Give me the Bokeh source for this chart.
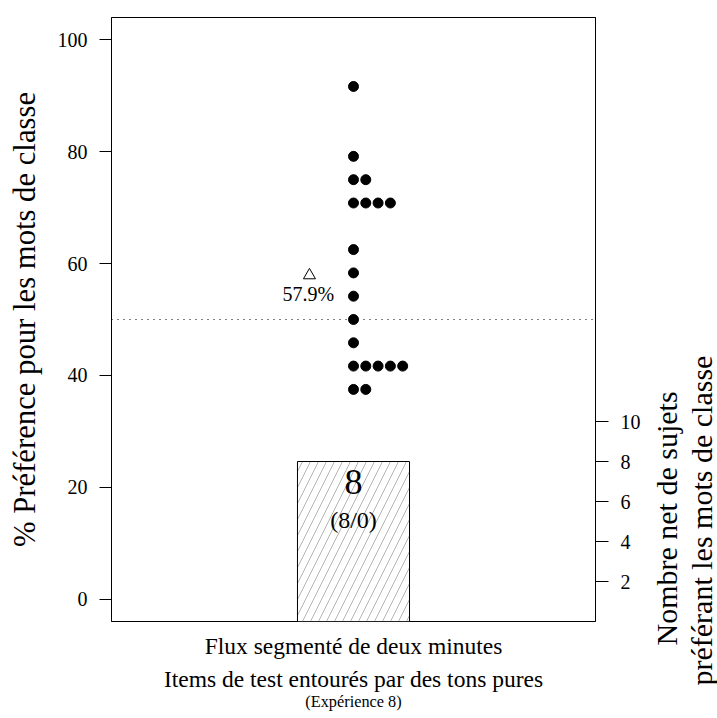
from bokeh.plotting import figure
from bokeh.models import Range1d, LinearAxis, FixedTicker, Span, Label, Title
from bokeh.layouts import row
from bokeh.embed import file_html
from bokeh.resources import INLINE

# ---- data ----
category = "Flux segmenté de deux minutes"
pref_values = [91.67, 79.17, 75.0, 70.83, 62.5, 58.33, 54.17, 50.0, 45.83, 41.67, 37.5]
pref_counts = [1, 1, 2, 4, 1, 1, 1, 1, 1, 5, 2]
mean_pref = 57.9
net_count = 8
net_split = "(8/0)"
left_ticks = [0, 20, 40, 60, 80, 100]
right_ticks = [2, 4, 6, 8, 10]
ylabel_left = "% Préférence pour les mots de classe"
ylabel_right = ["Nombre net de sujets", "préférant les mots de classe"]
xlabel_lines = ["Items de test entourés par des tons pures", "(Expérience 8)"]

FONT = "Liberation Serif"

p = figure(width=648, height=718, output_backend="svg", toolbar_location=None,
           x_range=Range1d(0, 2), y_range=Range1d(-4, 104),
           min_border_left=111, min_border_right=53, min_border_top=17, min_border_bottom=97)
p.extra_y_ranges = {"net": Range1d(0, 30.2)}
p.xaxis.visible = False
p.yaxis.visible = False
p.xgrid.visible = False
p.ygrid.visible = False
p.outline_line_color = "black"
p.outline_line_width = 1
p.background_fill_color = "white"
p.border_fill_color = "white"


def style_axis(ax):
    ax.minor_tick_line_color = None
    ax.major_label_text_font = FONT
    ax.major_label_text_font_size = "20px"
    ax.major_label_text_color = "black"
    ax.axis_line_color = "black"
    ax.major_tick_line_color = "black"
    ax.axis_label_text_font = FONT
    ax.axis_label_text_font_style = "normal"
    ax.axis_label_text_color = "black"


# left axis
la = LinearAxis(ticker=FixedTicker(ticks=left_ticks), axis_label=ylabel_left)
style_axis(la)
la.major_tick_out = 12
la.major_tick_in = 0
la.major_label_standoff = 12
la.axis_label_text_font_size = "30.7px"
la.axis_label_standoff = 13
p.add_layout(la, "left")

# right axis (net count)
ra = LinearAxis(ticker=FixedTicker(ticks=right_ticks), y_range_name="net")
style_axis(ra)
ra.major_tick_out = 13
ra.major_tick_in = 0
ra.major_label_standoff = 12
p.add_layout(ra, "right")

# bottom label axes
for txt, size, stand in [(category, "23.5px", 11),
                         (xlabel_lines[0], "23.5px", 4),
                         (xlabel_lines[1], "16.3px", -3)]:
    bx = LinearAxis(ticker=FixedTicker(ticks=[]), axis_label=txt)
    style_axis(bx)
    bx.axis_line_color = None
    bx.major_tick_out = 0
    bx.major_tick_in = 0
    bx.major_label_standoff = 0
    bx.axis_label_text_font_size = size
    bx.axis_label_standoff = stand
    p.add_layout(bx, "below")

# bar (net count) on right scale
p.vbar(x=[1.0], width=0.463, bottom=[0], top=[net_count], y_range_name="net",
       fill_color="white", line_color="black", line_width=1,
       hatch_pattern="/", hatch_color="#b5b5b5", hatch_scale=16, hatch_weight=1)

# 50% reference line
p.add_layout(Span(location=50, dimension="width", line_color="black",
                  line_width=1, line_dash="1 5"))

# stacked dots
xs, ys = [], []
step = 0.0508
for v, c in zip(pref_values, pref_counts):
    for k in range(c):
        xs.append(1.0 + k * step)
        ys.append(v)
p.scatter(x=xs, y=ys, size=10, marker="circle", fill_color="black", line_color="black")

# mean triangle
p.scatter(x=[0.818], y=[mean_pref], marker="triangle", size=12,
          fill_color=None, line_color="black", line_width=1)
p.add_layout(Label(x=0.813, y=54.64, text=f"{mean_pref}%", text_font=FONT,
                   text_font_size="20px", text_align="center", text_baseline="middle",
                   text_color="black"))

# bar texts
p.add_layout(Label(x=1.0, y=21.03, text=str(net_count), text_font=FONT, text_color="black",
                   text_font_size="36px", text_align="center", text_baseline="middle"))
p.add_layout(Label(x=1.0, y=14.06, text=net_split, text_font=FONT, text_color="black",
                   text_font_size="24px", text_align="center", text_baseline="middle"))

# right-hand title panel (two-line rotated axis title for the net-count scale)
p2 = figure(width=69, height=718, output_backend="svg", toolbar_location=None, title=None,
            x_range=Range1d(0, 1), y_range=Range1d(0, 1),
            min_border_left=0, min_border_right=0, min_border_top=17, min_border_bottom=97)
p2.xaxis.visible = False
p2.yaxis.visible = False
p2.xgrid.visible = False
p2.ygrid.visible = False
p2.outline_line_color = None
p2.border_fill_color = "white"
p2.background_fill_color = "white"
for txt, off in [(ylabel_right[1], -64), (ylabel_right[0], -24)]:
    t = Title(text=txt, align="left", offset=off, standoff=0, text_font=FONT,
              text_font_size="30px", text_font_style="normal", text_color="black")
    p2.add_layout(t, "left")

lay = row(p, p2, spacing=0)
open("out.html", "w").write(file_html(lay, INLINE))
